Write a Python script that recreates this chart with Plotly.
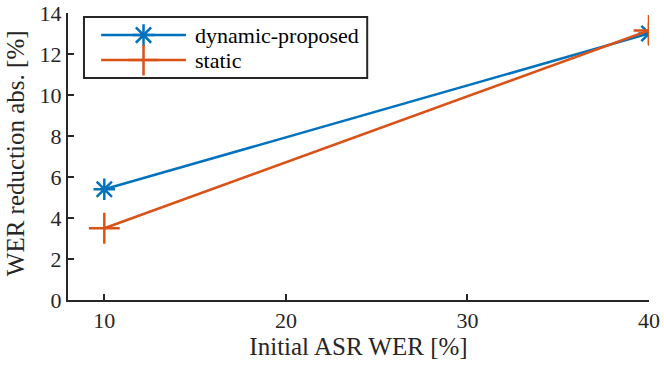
import plotly.graph_objects as go

wer_init = [10, 40]
dynamic_proposed = [5.4, 13.0]
static = [3.5, 13.15]
series_names = ['dynamic-proposed', 'static']

BLUE = '#0072BD'
ORANGE = '#D95319'
AX = '#262626'
FONT = "'Times New Roman', 'Liberation Serif', Times, serif"

styles = [
    dict(color=BLUE, symbol='asterisk-open', size=18),
    dict(color=ORANGE, symbol='cross-thin-open', size=22),
]

fig = go.Figure()
for name, vals, st in zip(series_names, [dynamic_proposed, static], styles):
    fig.add_trace(go.Scatter(x=wer_init, y=vals, mode='lines+markers', name=name,
                             line=dict(color=st['color'], width=2.5),
                             marker=dict(symbol=st['symbol'], size=st['size'], color=st['color'],
                                         line=dict(color=st['color'], width=2.5))))

# MATLAB-style legend box (plotly's legend rows are too tall), drawn on an overlay axis in [0,1]
LEG_X0, LEG_X1 = 0.0275, 0.515
LEG_Y0, LEG_Y1 = 0.7735, 0.986
KEY_X = [0.057, 0.203]
ROW_Y = [0.923, 0.836]
TEXT_X = 0.215
fig.add_shape(type='rect', xref='paper', yref='paper', x0=LEG_X0, x1=LEG_X1, y0=LEG_Y0, y1=LEG_Y1,
              line=dict(color=AX, width=2), fillcolor='white', layer='below')
for name, row_y, st in zip(series_names, ROW_Y, styles):
    fig.add_trace(go.Scatter(x=KEY_X, y=[row_y, row_y], mode='lines', xaxis='x2', yaxis='y2',
                             line=dict(color=st['color'], width=2.5), showlegend=False, hoverinfo='skip'))
    fig.add_trace(go.Scatter(x=[sum(KEY_X) / 2], y=[row_y], mode='markers', xaxis='x2', yaxis='y2',
                             marker=dict(symbol=st['symbol'], size=st['size'], color=st['color'],
                                         line=dict(color=st['color'], width=2.5)),
                             showlegend=False, hoverinfo='skip'))
    fig.add_annotation(x=TEXT_X, y=row_y, xref='x2', yref='y2', text=name, showarrow=False,
                       xanchor='left', yanchor='middle', font=dict(family=FONT, size=22, color='black'))

axis_common = dict(showline=True, linecolor=AX, linewidth=2, ticks='inside', tickcolor=AX,
                   ticklen=6, tickwidth=2, showgrid=False, zeroline=False, mirror=False,
                   automargin=False, ticklabeloverflow='allow',
                   tickfont=dict(family=FONT, size=22, color=AX),
                   title_font=dict(family=FONT, size=25, color=AX))
fig.update_xaxes(range=[8, 40], tickvals=[10, 20, 30, 40], title_text='Initial ASR WER [%]',
                 title_standoff=2, **axis_common)
fig.update_yaxes(range=[0, 14], dtick=2, **axis_common)
fig.add_annotation(x=-0.091, y=0.512, xref='paper', yref='paper', text='WER reduction abs. [%]',
                   textangle=-90, showarrow=False, xanchor='center', yanchor='middle',
                   font=dict(family=FONT, size=25, color=AX))

fig.update_layout(width=664, height=370, margin=dict(l=68, r=15, t=13, b=70),
                  plot_bgcolor='rgba(0,0,0,0)', paper_bgcolor='white',
                  font=dict(family=FONT, size=22, color='black'),
                  showlegend=False,
                  xaxis2=dict(overlaying='x', range=[0, 1], visible=False, fixedrange=True),
                  yaxis2=dict(overlaying='y', range=[0, 1], visible=False, fixedrange=True))
# drop the browser's default 8px body margin so the figure fills the window
fig.write_html('out.html', config={'displayModeBar': False},
               post_script="document.body.style.margin='0';")
